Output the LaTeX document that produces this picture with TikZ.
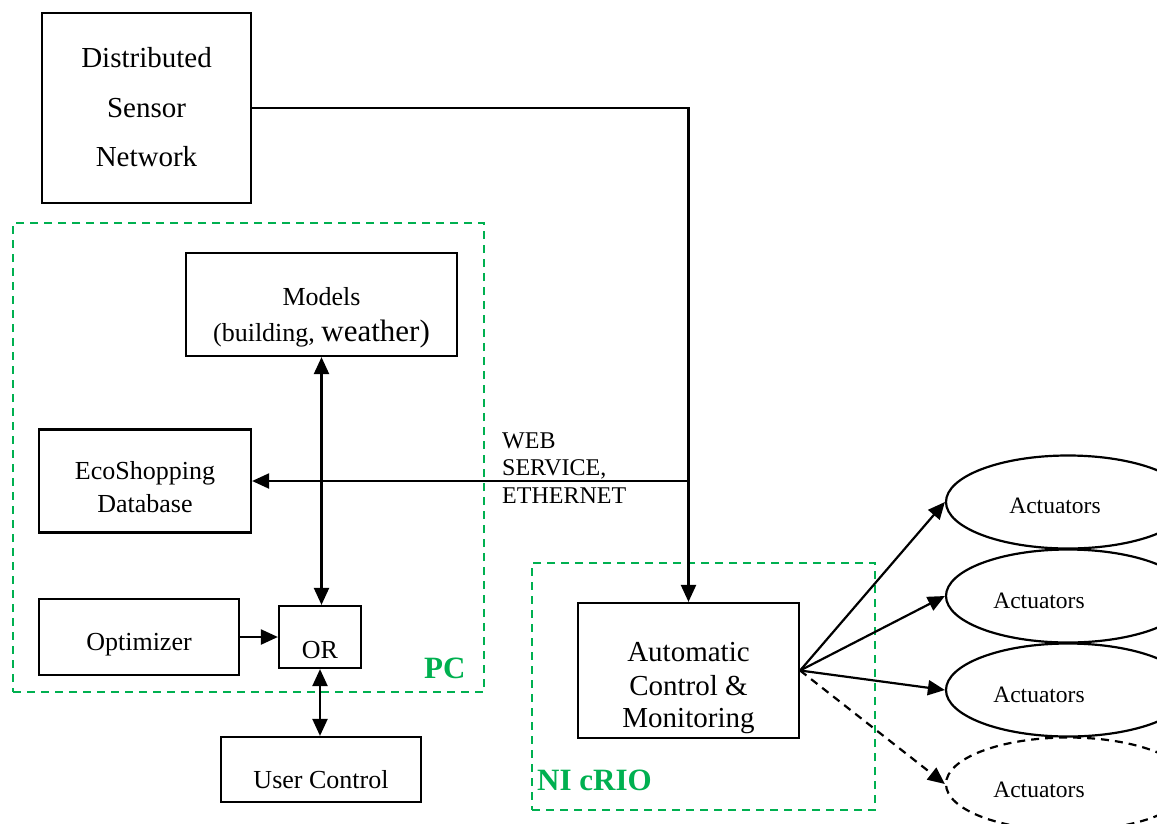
\documentclass[tikz,border=0pt]{standalone}
\usepackage{fontspec}
\setmainfont{Liberation Serif}
\usetikzlibrary{shapes.geometric,arrows.meta}
\definecolor{grp}{RGB}{0,176,80}
\begin{document}
\begin{tikzpicture}[x=1pt,y=-1pt,
  box/.style={draw,line width=2.2pt,inner sep=0pt},
  act/.style={draw,ellipse,line width=2.2pt,inner sep=0pt,minimum width=244pt,minimum height=93pt},
  grpframe/.style={draw=grp,line width=2pt,dash pattern=on 8pt off 6pt},
  grplabel/.style={text=grp,inner sep=0pt,anchor=west,font=\bfseries\fontsize{31}{34}\selectfont},
  txt/.style={inner sep=0pt,font=\fontsize{26}{30}\selectfont},
  bigtxt/.style={inner sep=0pt,font=\fontsize{29}{33}\selectfont},
  smalltxt/.style={inner sep=0pt,font=\fontsize{23.5}{27}\selectfont},
  link/.style={line width=2.2pt,-{Triangle[length=17pt,width=15pt]}},
  dlink/.style={line width=2.2pt,{Triangle[length=17pt,width=15pt]}-{Triangle[length=17pt,width=15pt]}}
]
\useasboundingbox (0,0) rectangle (1157,823);

% group frames
\node[grpframe,minimum width=471pt,minimum height=469pt,inner sep=0pt] (pc) at (248.5,457.5) {};
\node[grpframe,minimum width=343pt,minimum height=247pt,inner sep=0pt] (crio) at (703.5,686.5) {};
\node[grplabel] (pclbl) at (424,668) {PC};
\node[grplabel] (criolbl) at (537,780) {NI cRIO};

% boxes
\node[box,minimum width=209pt,minimum height=190pt] (dsn) at (146.5,108) {};
\node[bigtxt] (dsn1) at (146.5,58) {Distributed};
\node[bigtxt] (dsn2) at (146.5,108) {Sensor};
\node[bigtxt] (dsn3) at (146.5,157) {Network};

\node[box,minimum width=271pt,minimum height=103pt] (models) at (321.5,304.5) {};
\node[txt] (models1) at (321.5,297) {Models};
\node[txt,anchor=base] (models2) at (321.5,341) {(building, {\fontsize{31}{34}\selectfont weather)}};

\node[box,minimum width=212pt,minimum height=103pt] (eco) at (145,481) {};
\node[txt] (eco1) at (145,473) {EcoShopping};
\node[txt] (eco2) at (145,504) {Database};

\node[box,minimum width=200pt,minimum height=76pt] (opt) at (139,637) {};
\node[txt] (opt1) at (139,645) {Optimizer};

\node[box,minimum width=82pt,minimum height=62pt] (orbox) at (320,637) {};
\node[txt] (or1) at (320,650) {OR};

\node[box,minimum width=200pt,minimum height=65pt] (user) at (321,769.5) {};
\node[txt] (user1) at (321,780) {User Control};

\node[box,minimum width=221pt,minimum height=135pt] (acm) at (688.5,670.5) {};
\node[bigtxt] (acm1) at (688.5,652) {Automatic};
\node[bigtxt] (acm2) at (688.5,686) {Control \&};
\node[bigtxt] (acm3) at (688.5,721) {Monitoring};

% actuators
\node[act] (a1) at (1068,502) {};
\node[act] (a2) at (1068,596) {};
\node[act] (a3) at (1068,690) {};
\node[act,dash pattern=on 8pt off 6pt] (a4) at (1068,784) {};
\node[smalltxt] (a1t) at (1055,506) {Actuators};
\node[smalltxt] (a2t) at (1039,601) {Actuators};
\node[smalltxt] (a3t) at (1039,695) {Actuators};
\node[smalltxt] (a4t) at (1039,790) {Actuators};

% network label
\node[anchor=west,align=left,inner sep=0pt,font=\fontsize{24}{27.5}\selectfont] (web) at (502,468) {WEB\\SERVICE,\\ETHERNET};

% connectors
\coordinate (tee) at (acm.north |- eco.east);
\draw[link] (dsn.east) -| (acm.north);
\draw[link] (tee) -- (eco.east);
\draw[dlink] (models.south) -- (models.south |- orbox.north);
\draw[link] (opt.east) -- (opt.east -| orbox.west);
\draw[dlink] (orbox.south) -- (orbox.south |- user.north);
\draw[link] (acm.east) -- (a1.west);
\draw[link] (acm.east) -- (a2.west);
\draw[link] (acm.east) -- (a3.west);
\draw[link,dash pattern=on 8pt off 6pt] (acm.east) -- (a4.west);
\end{tikzpicture}
\end{document}
